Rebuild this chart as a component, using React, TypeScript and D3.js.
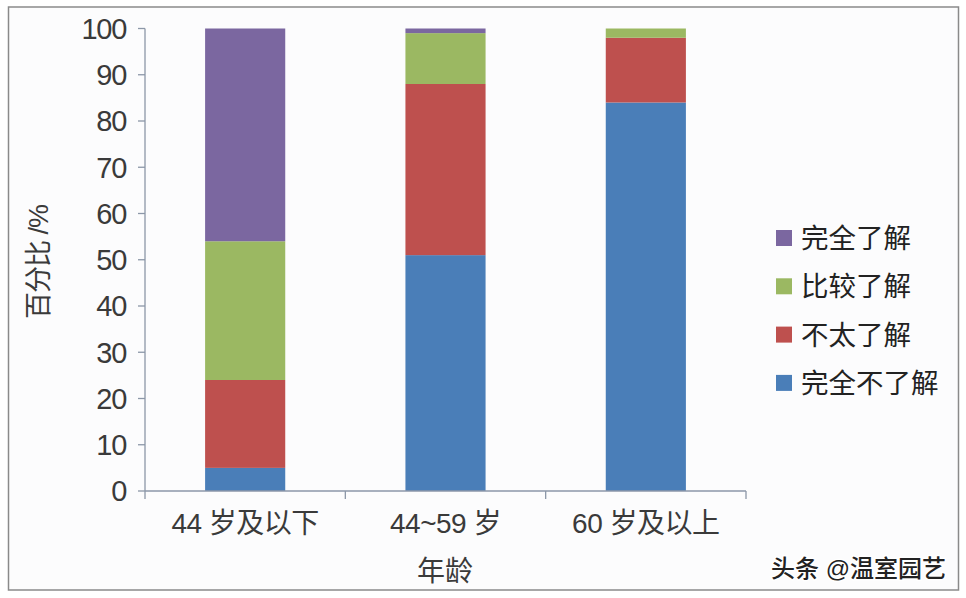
import React from "react";
import * as d3 from "d3";

const categories = ["44 岁及以下", "44~59 岁", "60 岁及以上"];
const seriesNames = ["完全不了解", "不太了解", "比较了解", "完全了解"];
const seriesColors = ["#4a7eb8", "#be504e", "#9bb862", "#7b67a0"];
const values: number[][] = [
  [5, 51, 84],   // 完全不了解
  [19, 37, 14],  // 不太了解
  [30, 11, 2],   // 比较了解
  [46, 1, 0],    // 完全了解
];
const yTicks = [0, 10, 20, 30, 40, 50, 60, 70, 80, 90, 100];
const xTitle = "年龄";
const yTitle = "百分比 /%";
const watermark = "头条 @温室园艺";

const W = 966;
const H = 598;
const left = 145;
const right = 746;
const top = 28.5;
const bottom = 491;

export default function App() {
  const x = d3
    .scaleBand<string>()
    .domain(categories)
    .range([left, right])
    .paddingInner(0.6)
    .paddingOuter(0.3);
  const y = d3.scaleLinear().domain([0, 100]).range([bottom, top]);

  const rows = categories.map((c, i) => {
    const r: Record<string, number | string> = { cat: c };
    seriesNames.forEach((s, j) => (r[s] = values[j][i]));
    return r;
  });
  const stacked = d3.stack<any>().keys(seriesNames)(rows as any);

  const axisColor = "#8c97a8";
  const numFont = "'Liberation Sans', Arial, 'Noto Sans CJK SC', sans-serif";
  const cjkFont = "'Liberation Sans', 'Noto Sans CJK SC', sans-serif";
  const step = x.step();
  const boundaries = [0, 1, 2, 3].map((i) => left + i * step);

  const legendOrder = [3, 2, 1, 0];

  return (
    <svg
      width={W}
      height={H}
      style={{ position: "fixed", left: 0, top: 0 }}
      xmlns="http://www.w3.org/2000/svg"
    >
      <rect x={0} y={0} width={W} height={H} fill="#ffffff" />
      <rect x={8.5} y={7} width={950} height={583} fill="#fcfcfd" stroke="#8a8a8a" strokeWidth={1.5} />

      {stacked.map((layer, j) =>
        layer.map((d, i) => (
          <rect
            key={`${j}-${i}`}
            x={x(categories[i])!}
            width={x.bandwidth()}
            y={y(d[1])}
            height={Math.max(0, y(d[0]) - y(d[1]))}
            fill={seriesColors[j]}
          />
        ))
      )}

      {/* y axis */}
      <line x1={left} x2={left} y1={top} y2={bottom} stroke={axisColor} strokeWidth={1.3} />
      {yTicks.map((t) => (
        <g key={t}>
          <line x1={left - 7} x2={left} y1={y(t)} y2={y(t)} stroke={axisColor} strokeWidth={1.3} />
          <text
            x={126}
            y={y(t)}
            dy="0.36em"
            textAnchor="end"
            fontFamily={numFont}
            fontSize={29}
            letterSpacing={-1.3}
            fill="#3a3a3a"
          >
            {t}
          </text>
        </g>
      ))}

      {/* x axis */}
      <line x1={left} x2={right} y1={bottom} y2={bottom} stroke={axisColor} strokeWidth={1.3} />
      {boundaries.map((b, i) => (
        <line key={i} x1={b} x2={b} y1={bottom} y2={bottom + 8} stroke={axisColor} strokeWidth={1.3} />
      ))}
      {categories.map((c) => (
        <text
          key={c}
          x={x(c)! + x.bandwidth() / 2}
          y={533}
          textAnchor="middle"
          fontFamily={cjkFont}
          fontSize={28}
          letterSpacing={-0.5}
          fill="#3a3a3a"
        >
          {c}
        </text>
      ))}
      <text x={445} y={581} textAnchor="middle" fontFamily={cjkFont} fontSize={28} fill="#3a3a3a">
        {xTitle}
      </text>
      <text
        transform={`translate(48,262) rotate(-90)`}
        textAnchor="middle"
        fontFamily={cjkFont}
        fontSize={27}
        letterSpacing={-1}
        fill="#3a3a3a"
      >
        {yTitle}
      </text>

      {/* legend */}
      {legendOrder.map((j, k) => {
        const cy = 238 + k * 48.3;
        return (
          <g key={j}>
            <rect x={776} y={cy - 8} width={16} height={16} fill={seriesColors[j]} />
            <text x={801} y={cy} dy="0.36em" fontFamily={cjkFont} fontSize={27.5} fill="#222">
              {seriesNames[j]}
            </text>
          </g>
        );
      })}

      <text
        x={946}
        y={577}
        textAnchor="end"
        fontFamily={cjkFont}
        fontSize={24}
        fontWeight={500}
        fill="#222"
        stroke="#ffffff"
        strokeWidth={3}
        paintOrder="stroke"
      >
        {watermark}
      </text>
    </svg>
  );
}
